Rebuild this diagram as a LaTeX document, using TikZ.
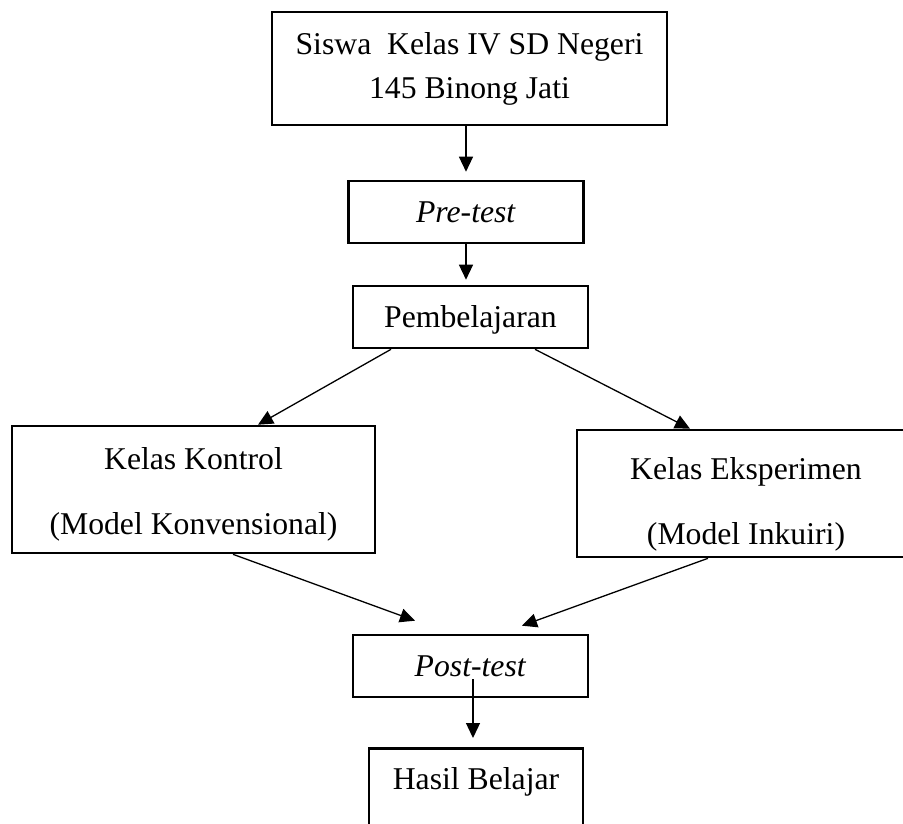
\documentclass[tikz,border=0pt]{standalone}
\usepackage{fontspec}
\setmainfont{Liberation Serif}
\usetikzlibrary{arrows.meta,calc}
\tikzset{
  box/.style={draw=black, line width=2.6pt, rectangle, inner sep=0pt, align=center,
              font=\fontsize{31.7}{44}\selectfont},
  onebox/.style={box, minimum width=235pt, minimum height=62pt, text height=28pt, text depth=7pt},
  twobox/.style={box, minimum height=127pt, font=\fontsize{31.7}{65}\selectfont, text depth=7pt},
  arr/.style={line width=1.3pt, -{Triangle[length=15pt,width=14pt]}}
}
\begin{document}
\begin{tikzpicture}[x=1pt,y=-1pt]
\useasboundingbox (0,0) rectangle (903,823);
\fill[white] (0,0) rectangle (903,823);
\clip (0,0) rectangle (903,823);
% boxes
\node[box, minimum width=395pt, minimum height=113pt] (b1) at (469.5,68.5)
  {Siswa\ \ Kelas IV SD Negeri\\145 Binong Jati};
\node[onebox] (pre) at (466,212) {\textit{Pre-test}};
\node[onebox] (pemb) at (470.5,317) {Pembelajaran};
\node[twobox, minimum width=363pt, text height=96.5pt] (kon) at (193.5,489.5)
  {Kelas Kontrol\\(Model Konvensional)};
\node[twobox, minimum width=338pt, text height=108.5pt] (eks) at (746,493.5)
  {Kelas Eksperimen\\(Model Inkuiri)};
\node[onebox] (post) at (470.5,666) {\textit{Post-test}};
\node[box, anchor=north, minimum width=214pt, text height=41pt, text depth=70pt] (has) at (476,747) {Hasil Belajar};
% connectors
\draw[arr] (b1.south -| pre.north) -- ([yshift=8pt]pre.north);
\draw[arr] (pre.south) -- ([yshift=5pt]pre.south |- pemb.north);
\draw[arr] ([xshift=-79.5pt]pemb.south) -- ([xshift=64.5pt]kon.north);
\draw[arr] ([xshift=64.5pt]pemb.south) -- ([xshift=-56pt]eks.north);
\draw[arr] ([xshift=39.5pt]kon.south) -- ([xshift=-55.5pt,yshift=13pt]post.north);
\draw[arr] ([xshift=-38pt]eks.south) -- ([xshift=51.5pt,yshift=8pt]post.north);
\draw[arr] ([xshift=2.5pt,yshift=19pt]post.south) -- ([xshift=-3pt,yshift=9pt]has.north);
\end{tikzpicture}
\end{document}
